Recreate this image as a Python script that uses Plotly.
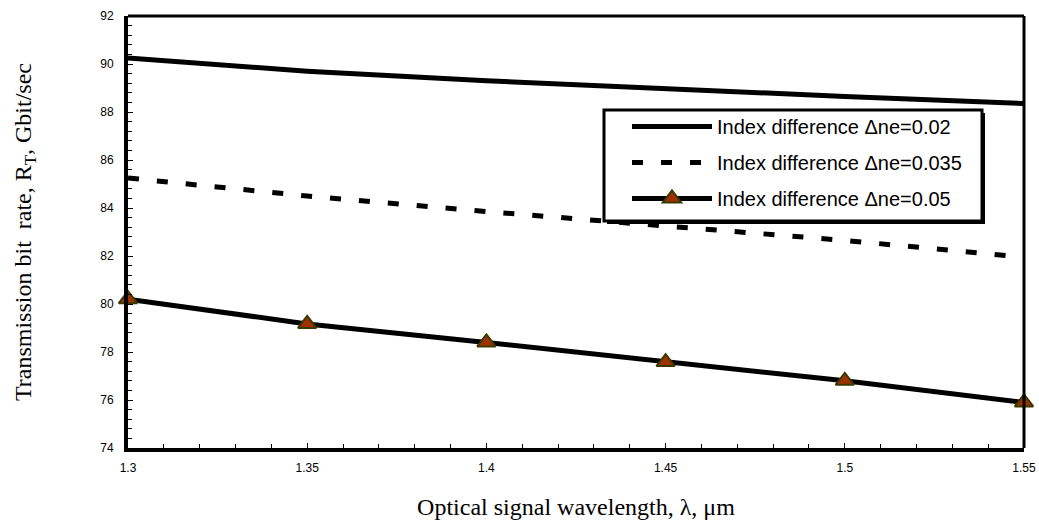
import plotly.graph_objects as go

wavelength = [1.30, 1.35, 1.40, 1.45, 1.50, 1.55]
rate_002 = [90.25, 89.70, 89.30, 88.95, 88.65, 88.35]
rate_0035 = [85.25, 84.50, 83.85, 83.25, 82.65, 81.95]
rate_005 = [80.20, 79.17, 78.40, 77.58, 76.80, 75.90]

names = ["Index difference \u0394ne=0.02",
         "Index difference \u0394ne=0.035",
         "Index difference \u0394ne=0.05"]

x_ticks = [1.3, 1.35, 1.4, 1.45, 1.5, 1.55]
x_ticklabels = ["1.3", "1.35", "1.4", "1.45", "1.5", "1.55"]
y_ticks = [74, 76, 78, 80, 82, 84, 86, 88, 90, 92]

# plot area in pixels (layout only)
L, R, T, B = 128, 1024, 16, 448
W, H = R - L, B - T


def px(xp):
    return (xp - L) / W


def py(yp):
    return (B - yp) / H


fig = go.Figure()
fig.add_trace(go.Scatter(x=wavelength, y=rate_002, mode="lines", name=names[0],
                         legendgroup="a", line=dict(color="black", width=5)))
fig.add_trace(go.Scatter(x=wavelength, y=rate_0035, mode="lines", name=names[1],
                         legendgroup="b", line=dict(color="black", width=5, dash="11px,18px")))
fig.add_trace(go.Scatter(x=wavelength, y=rate_005, mode="lines+markers", name=names[2],
                         legendgroup="c", line=dict(color="black", width=5),
                         marker=dict(symbol="triangle-up", size=16, color="#a03000",
                                     line=dict(color="#3a3a00", width=2)),
                         cliponaxis=False))

axis_font = dict(family="Liberation Sans, Arial", size=12, color="black")
title_font = dict(family="Liberation Serif, Times New Roman", size=24, color="black")

fig.update_layout(
    width=1039, height=523,
    margin=dict(l=L, r=1039 - R, t=T, b=523 - B),
    paper_bgcolor="white", plot_bgcolor="white",
    showlegend=True,
    legend=dict(
        x=px(627), y=py(107), xanchor="left", yanchor="top",
        bgcolor="rgba(0,0,0,0)", borderwidth=0,
        font=dict(family="Liberation Sans, Arial", size=20, color="black"),
        itemwidth=80, tracegroupgap=7, traceorder="grouped",
    ),
    xaxis=dict(
        range=[1.3, 1.55], tickvals=x_ticks, ticktext=x_ticklabels,
        ticks="inside", ticklen=5, tickwidth=1, tickcolor="black",
        minor=dict(dtick=0.01, ticks="inside", ticklen=4, tickcolor="black", tickwidth=1),
        showgrid=False, zeroline=False, automargin=False,
        showline=True, linecolor="black", linewidth=4,
        tickfont=axis_font, ticklabelstandoff=6,
        title=dict(text="Optical signal wavelength, \u03bb, \u03bcm", font=title_font, standoff=25),
    ),
    yaxis=dict(
        range=[74, 92], tickvals=y_ticks,
        ticks="inside", ticklen=5, tickwidth=1, tickcolor="black",
        minor=dict(dtick=0.4, tick0=74, ticks="inside", ticklen=4, tickcolor="black", tickwidth=1),
        showgrid=False, zeroline=False, automargin=False,
        showline=True, linecolor="black", linewidth=4,
        tickfont=axis_font, ticklabelstandoff=8,
        title=dict(text="Transmission bit\u00a0 rate, R<sub>T</sub>, Gbit/sec", font=title_font, standoff=63),
    ),
    shapes=[
        dict(type="line", xref="paper", yref="paper", x0=0, x1=1, y0=1, y1=1,
             line=dict(color="black", width=3)),
        dict(type="line", xref="paper", yref="paper", x0=1, x1=1, y0=0, y1=1,
             line=dict(color="black", width=3)),
        # legend box shadow and box
        dict(type="rect", xref="paper", yref="paper", layer="above",
             x0=px(607), x1=px(985), y0=py(224), y1=py(113),
             fillcolor="black", line=dict(color="black", width=0)),
        dict(type="rect", xref="paper", yref="paper", layer="above",
             x0=px(604), x1=px(982), y0=py(221), y1=py(110),
             fillcolor="white", line=dict(color="black", width=3)),
    ],
)

fig.write_html("out.html")
